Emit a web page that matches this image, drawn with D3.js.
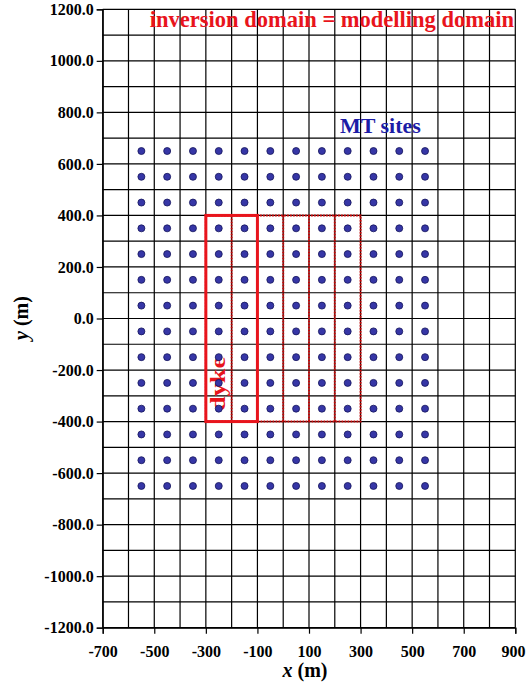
<!DOCTYPE html>
<html>
<head>
<meta charset="UTF-8">
<title>MT sites and inversion domain</title>
<script src="https://d3js.org/d3.v7.min.js"></script>
<style>
    body {
        margin: 0;
        padding: 0;
        background: #fff;
    }
    svg text {
        font-family: "Liberation Serif", "Times New Roman", serif;
        font-weight: bold;
    }
    .grid line {
        stroke: #000;
        stroke-width: 1.2px;
    }
</style>
</head>
<body>
<svg id="chart"></svg>
<script>
    // Axis ticks (labelled)
    const xTicks = [-700, -500, -300, -100, 100, 300, 500, 700, 900];
    const yTicks = [-1200, -1000, -800, -600, -400, -200, 0, 200, 400, 600, 800, 1000, 1200];

    // Grid lines every 100 m
    const xGrid = [-700, -600, -500, -400, -300, -200, -100, 0, 100, 200, 300, 400, 500, 600, 700, 800, 900];
    const yGrid = [-1200, -1100, -1000, -900, -800, -700, -600, -500, -400, -300, -200, -100, 0, 100, 200, 300, 400, 500, 600, 700, 800, 900, 1000, 1100, 1200];

    // MT site coordinates
    const siteX = [-550, -450, -350, -250, -150, -50, 50, 150, 250, 350, 450, 550];
    const siteY = [650, 550, 450, 350, 250, 150, 50, -50, -150, -250, -350, -450, -550, -650];

    // Dyke body (solid) and modelling blocks (dotted)
    const dykeX = [-300, -100];
    const dykeY = [-400, 400];
    const blockX = [-300, 300];
    const blockY = [-400, 400];
    const blockDividers = [-200, 0, 100, 200];

    const width = 526, height = 687;
    const plotL = 102.7, plotR = 515.3, plotT = 9.3, plotB = 627.7;

    const svg = d3.select("#chart")
        .attr("width", width)
        .attr("height", height);

    const x = d3.scaleLinear().domain([-700, 900]).range([plotL, plotR]);
    const y = d3.scaleLinear().domain([-1200, 1200]).range([plotB, plotT]);

    // Grid
    const grid = svg.append("g").attr("class", "grid");
    grid.selectAll("line.v")
        .data(xGrid)
        .enter().append("line")
        .attr("class", "v")
        .attr("x1", d => x(d)).attr("x2", d => x(d))
        .attr("y1", plotT).attr("y2", plotB);
    grid.selectAll("line.h")
        .data(yGrid)
        .enter().append("line")
        .attr("class", "h")
        .attr("x1", plotL).attr("x2", plotR)
        .attr("y1", d => y(d)).attr("y2", d => y(d));

    // Axes (plain hyphen for the minus, like the original)
    const fmtY = d => d3.format(".1f")(d).replace("\u2212", "-");
    const fmtX = d => d3.format("d")(d).replace("\u2212", "-");

    const yAxis = d3.axisLeft(y)
        .tickValues(yTicks)
        .tickFormat(fmtY)
        .tickSize(6)
        .tickPadding(3);
    const gy = svg.append("g")
        .attr("transform", `translate(${plotL},0)`)
        .call(yAxis);

    const xAxis = d3.axisBottom(x)
        .tickValues(xTicks)
        .tickFormat(fmtX)
        .tickSize(6)
        .tickPadding(12);
    const gx = svg.append("g")
        .attr("transform", `translate(0,${plotB})`)
        .call(xAxis);

    [gx, gy].forEach(g => {
        g.attr("font-family", "Liberation Serif, serif").attr("font-size", 16);
        g.select(".domain").attr("stroke", "#000").attr("stroke-width", 1.2);
        g.selectAll(".tick line").attr("stroke", "#000").attr("stroke-width", 1.2);
        g.selectAll(".tick text")
            .attr("fill", "#000")
            .style("font-family", "'Liberation Serif', serif")
            .style("font-size", "16px")
            .style("font-weight", "bold");
    });
    // last x label sits against the right edge of the page
    gx.selectAll(".tick text")
        .filter(d => d === xTicks[xTicks.length - 1])
        .attr("text-anchor", "end")
        .attr("x", width - plotR - 1);

    // Dotted modelling blocks
    const red = "#e8141c";
    const darkRed = "#c80808";
    svg.append("rect")
        .attr("x", x(blockX[0]))
        .attr("y", y(blockY[1]))
        .attr("width", x(blockX[1]) - x(blockX[0]))
        .attr("height", y(blockY[0]) - y(blockY[1]))
        .attr("fill", "none")
        .attr("stroke", darkRed)
        .attr("stroke-width", 2)
        .attr("stroke-dasharray", "2,1");
    svg.selectAll("line.divider")
        .data(blockDividers)
        .enter().append("line")
        .attr("class", "divider")
        .attr("x1", d => x(d)).attr("x2", d => x(d))
        .attr("y1", y(blockY[1])).attr("y2", y(blockY[0]))
        .attr("stroke", darkRed)
        .attr("stroke-width", 2)
        .attr("stroke-dasharray", "2,1");

    // Dyke
    svg.append("rect")
        .attr("x", x(dykeX[0]))
        .attr("y", y(dykeY[1]))
        .attr("width", x(dykeX[1]) - x(dykeX[0]))
        .attr("height", y(dykeY[0]) - y(dykeY[1]))
        .attr("fill", "none")
        .attr("stroke", red)
        .attr("stroke-width", 3);

    svg.append("text")
        .attr("transform", `translate(${x(-250) + 6},${y(-250) + 1}) rotate(-90)`)
        .attr("text-anchor", "middle")
        .attr("font-size", 22)
        .attr("textLength", 54)
        .attr("lengthAdjust", "spacingAndGlyphs")
        .attr("fill", red)
        .text("dyke");

    // MT sites
    const sites = [];
    siteY.forEach(sy => siteX.forEach(sx => sites.push({ x: sx, y: sy })));
    svg.append("g")
        .selectAll("circle")
        .data(sites)
        .enter().append("circle")
        .attr("cx", d => x(d.x))
        .attr("cy", d => y(d.y))
        .attr("r", 3.5)
        .attr("fill", "#3636a6")
        .attr("stroke", "#14145a")
        .attr("stroke-width", 0.8);

    // Annotations
    svg.append("text")
        .attr("x", 514)
        .attr("y", 27)
        .attr("text-anchor", "end")
        .attr("font-size", 22.5)
        .attr("fill", red)
        .text("inversion domain = modelling domain");

    svg.append("text")
        .attr("x", 340)
        .attr("y", 133)
        .attr("font-size", 22)
        .attr("fill", "#1c1ca6")
        .text("MT sites");

    // Axis titles
    const xt = svg.append("text")
        .attr("x", 305)
        .attr("y", 677)
        .attr("text-anchor", "middle")
        .attr("font-size", 20);
    xt.append("tspan").attr("font-style", "italic").text("x");
    xt.append("tspan").text(" (m)");

    const yt = svg.append("text")
        .attr("transform", "translate(28,318) rotate(-90)")
        .attr("text-anchor", "middle")
        .attr("font-size", 20);
    yt.append("tspan").attr("font-style", "italic").text("y");
    yt.append("tspan").text(" (m)");
</script>
</body>
</html>
